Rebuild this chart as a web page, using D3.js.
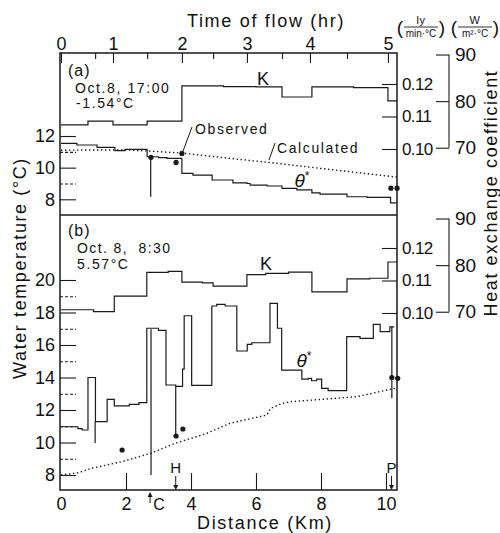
<!DOCTYPE html>
<html>
<head>
<meta charset="utf-8">
<script src="https://cdn.jsdelivr.net/npm/d3@7"></script>
<style>
  body { margin: 0; background: #fff; }
  text { font-family: "Liberation Sans", Arial, sans-serif; fill: #111; }
</style>
</head>
<body>
<svg id="chart" width="500" height="533"></svg>
<script>
// axis values
const flowHours = [0, 0.5, 1, 1.5, 2, 2.5, 3, 3.5, 4, 4.5, 5];
const flowKm = [0, 1.05, 1.6, 2.65, 3.72, 4.68, 5.72, 6.8, 7.66, 8.8, 10.06];
const distTicks = [0, 2, 4, 6, 8, 10];
const tempTicksA = [8, 9, 10, 11, 12];
const tempTicksB = [8, 9, 10, 11, 12, 13, 14, 15, 16, 17, 18, 19, 20];
const kTicks = [0.10, 0.11, 0.12];
const wTicks = [70, 80, 90];
const lyToW = 697.3;

// (a) Oct.8 17:00  [km, value]
const kA = [[0, 0.1074], [0.83, 0.1086], [1.6, 0.1074], [2.65, 0.1086], [3.72, 0.1194], [5.0, 0.1192],
  [6.0, 0.1191], [6.8, 0.1160], [7.72, 0.1191], [9.0, 0.1189], [10.06, 0.1148], [10.34, 0.1148]];
const thetaA = [[0, 11.54], [0.49, 11.43], [1.11, 11.28], [1.66, 11.07], [1.97, 11.16], [2.65, 10.69],
  [3.0, 10.63], [3.26, 10.59], [3.72, 9.64], [4.06, 9.53], [4.65, 9.22], [5.29, 9.04], [5.72, 9.0],
  [5.82, 8.9], [6.34, 8.84], [6.8, 8.69], [7.26, 8.6], [7.72, 8.41], [7.97, 8.33], [8.8, 8.16],
  [9.42, 8.12], [10.14, 7.78], [10.33, 7.78]];
const calcA = [[0, 11.1], [1.0, 11.12], [2.0, 11.12], [2.7, 11.05], [3.72, 10.92], [5.5, 10.52],
  [6.4, 10.33], [8.0, 9.95], [10.34, 9.4]];
const obsA = [[2.77, 10.65], [3.54, 10.33], [3.72, 10.9], [10.15, 8.7], [10.34, 8.7]];
const dropsA = [[2.76, 10.69, 8.16]];

// (b) Oct.8 8:30
const kB = [[0, 0.1010], [1.0, 0.1004], [1.64, 0.1052], [2.64, 0.1125], [3.3, 0.1128], [3.72, 0.1095],
  [4.35, 0.1093], [4.68, 0.1083], [5.72, 0.1118], [6.3, 0.1122], [7.0, 0.1126], [7.72, 0.1065],
  [8.8, 0.1105], [9.5, 0.1107], [10.06, 0.1157], [10.34, 0.1157]];
const thetaB = [[0, 10.97], [0.52, 10.85], [0.65, 10.77], [0.83, 14.0], [1.06, 11.28], [1.42, 12.66],
  [1.64, 12.25], [2.1, 12.35], [2.4, 12.45], [2.64, 17.03], [3.0, 16.9], [3.23, 13.54], [3.53, 13.45],
  [3.74, 14.52], [3.79, 17.8], [4.02, 13.52], [4.64, 18.4], [4.79, 18.5], [5.05, 18.4], [5.41, 15.63],
  [5.73, 16.04], [5.87, 16.14], [6.43, 18.56], [6.66, 17.03], [6.79, 14.46], [7.41, 13.9], [7.61, 13.95],
  [7.71, 13.8], [7.87, 13.9], [8.02, 13.33], [8.22, 13.19], [8.79, 16.51], [9.2, 16.41], [9.61, 17.27],
  [9.82, 16.82], [10.12, 17.12], [10.25, 17.12]];
const calcB = [[0, 8.0], [0.53, 8.14], [0.94, 8.41], [1.87, 8.82], [2.77, 9.34], [3.51, 9.95],
  [4.43, 10.52], [5.2, 11.18], [6.33, 11.69], [6.45, 12.1], [6.8, 12.4], [7.05, 12.51], [8.07, 12.66],
  [9.1, 12.82], [10.12, 13.27], [10.32, 13.35]];
const obsB = [[1.88, 9.54], [3.54, 10.4], [3.75, 10.83], [10.18, 14.0], [10.36, 13.95]];
const dropsB = [[1.05, 11.28, 9.97], [2.77, 16.97, 8.0], [3.53, 13.45, 10.46], [10.18, 17.12, 12.72]];

// stations along the river
const sites = [["H", 3.53], ["P", 10.17]];
const siteC = 2.74;

const svg = d3.select("#chart");
const box = {left: 60, right: 397, top: 53, mid: 215, bottom: 490};
const ink = "#1a1a1a";

const x = d3.scaleLinear().domain([0, 10]).range([61, 386]);
const xTime = d3.scaleLinear().domain(flowHours).range(flowKm.map(x));
const yA = d3.scaleLinear().domain([8, 12]).range([199.3, 136]);
const yB = d3.scaleLinear().domain([8, 20]).range([475, 280]);
const kScaleA = d3.scaleLinear().domain([0.10, 0.12]).range([149, 84]);
const kScaleB = d3.scaleLinear().domain([0.10, 0.12]).range([313, 248]);
const toW = k => d3.scaleLinear().domain(k.domain().map(v => v * lyToW)).range(k.range());

function styleAxis(g, size) {
    g.select(".domain").remove();
    g.selectAll(".tick line").attr("stroke", ink).attr("stroke-width", 1.1);
    g.selectAll(".tick text").attr("font-size", size).attr("font-family", "Liberation Sans, Arial, sans-serif")
        .attr("fill", ink);
}

// frame
svg.append("rect").attr("x", box.left).attr("y", box.top)
    .attr("width", box.right - box.left).attr("height", box.bottom - box.top)
    .attr("fill", "none").attr("stroke", ink).attr("stroke-width", 1.5);
svg.append("line").attr("x1", box.left).attr("x2", box.right).attr("y1", box.mid).attr("y2", box.mid)
    .attr("stroke", ink).attr("stroke-width", 1.5);

// top axis: time of flow
const topAxis = svg.append("g").attr("transform", `translate(0,${box.top})`)
    .call(d3.axisTop(xTime).tickValues(flowHours).tickSize(-6).tickPadding(3)
        .tickFormat(d => Number.isInteger(d) ? d : ""));
styleAxis(topAxis, 18);
topAxis.selectAll(".tick line").attr("y2", d => Number.isInteger(d) ? 10 : 6);

// bottom axis: distance
const botAxis = svg.append("g").attr("transform", `translate(0,${box.bottom})`)
    .call(d3.axisBottom(x).tickValues(distTicks).tickSize(-17).tickPadding(7));
styleAxis(botAxis, 18);
botAxis.selectAll(".tick line").filter(d => d === 0).remove();

// left temperature axes
[[yA, tempTicksA], [yB, tempTicksB]].forEach(([y, ticks]) => {
    const g = svg.append("g").attr("transform", `translate(${box.left},0)`)
        .call(d3.axisLeft(y).tickValues(ticks).tickSize(-16).tickPadding(5)
            .tickFormat(d => d % 2 === 0 ? d : ""));
    styleAxis(g, 18);
    g.selectAll(".tick line").attr("stroke-dasharray", d => d % 2 === 0 ? null : "3,2");
});

// right coefficient axes
[kScaleA, kScaleB].forEach(k => {
    const g = svg.append("g").attr("transform", `translate(${box.right},0)`)
        .call(d3.axisRight(k).tickValues(kTicks).tickSize(-15).tickPadding(5).tickFormat(d3.format(".2f")));
    styleAxis(g, 17);
    g.selectAll(".tick text").attr("letter-spacing", -0.6);

    const w = toW(k);
    const gw = svg.append("g").attr("transform", "translate(449,0)")
        .call(d3.axisRight(w).tickValues(wTicks).tickSize(-13).tickPadding(6));
    styleAxis(gw, 19);
    gw.append("line").attr("x1", 0).attr("x2", 0).attr("y1", w(70)).attr("y2", w(90))
        .attr("stroke", ink).attr("stroke-width", 1.1);
});

// series
const step = y => d3.line().x(d => x(d[0])).y(d => y(d[1])).curve(d3.curveStepAfter);
const smooth = y => d3.line().x(d => x(d[0])).y(d => y(d[1]));

function panel(kData, kScale, theta, calc, obs, drops, y) {
    svg.append("path").datum(kData).attr("d", step(kScale))
        .attr("fill", "none").attr("stroke", ink).attr("stroke-width", 1.2);
    svg.append("path").datum(theta).attr("d", step(y))
        .attr("fill", "none").attr("stroke", ink).attr("stroke-width", 1.2);
    svg.append("path").datum(calc).attr("d", smooth(y))
        .attr("fill", "none").attr("stroke", ink).attr("stroke-width", 1.4)
        .attr("stroke-dasharray", "1.4,2.6");
    svg.selectAll(null).data(drops).enter().append("line")
        .attr("x1", d => x(d[0])).attr("x2", d => x(d[0]))
        .attr("y1", d => y(d[1])).attr("y2", d => y(d[2]))
        .attr("stroke", ink).attr("stroke-width", 1.2);
    svg.selectAll(null).data(obs).enter().append("circle")
        .attr("cx", d => x(d[0])).attr("cy", d => y(d[1])).attr("r", 2.6).attr("fill", ink);
}
panel(kA, kScaleA, thetaA, calcA, obsA, dropsA, yA);
panel(kB, kScaleB, thetaB, calcB, obsB, dropsB, yB);

// labels inside the panels
function label(txt, px, py, size, opts = {}) {
    const t = svg.append("text").attr("x", px).attr("y", py).attr("font-size", size)
        .attr("letter-spacing", opts.ls ?? 1).text(txt);
    if (opts.anchor) t.attr("text-anchor", opts.anchor);
    if (opts.italic) t.attr("font-style", "italic");
    return t;
}
label("(a)", 68, 76, 16);
label("Oct.8, 17:00", 75, 93, 14, {ls: 1.6});
label("-1.54°C", 76, 108, 14, {ls: 1.6});
label("(b)", 68, 236, 16);
label("Oct. 8,  8:30", 77, 253, 14, {ls: 1.4}).attr("xml:space", "preserve").style("white-space", "pre");
label("5.57°C", 77, 269, 14, {ls: 1.6});
label("K", 263, 85, 18, {anchor: "middle", ls: 0});
label("K", 266, 270, 18, {anchor: "middle", ls: 0});

[[302, 187], [304, 367]].forEach(([px, py]) => {
    const t = label("θ", px, py, 19, {anchor: "middle", italic: true, ls: 0});
    t.append("tspan").attr("font-size", 12).attr("dy", -7).attr("font-style", "normal").text("*");
});

label("Observed", 195, 134, 14, {ls: 1.6});
svg.append("line").attr("x1", 192).attr("y1", 127).attr("x2", x(3.72) + 1).attr("y2", yA(10.9) - 2)
    .attr("stroke", ink).attr("stroke-width", 1);
label("Calculated", 277, 153, 14, {ls: 1.6});
svg.append("line").attr("x1", 275).attr("y1", 143).attr("x2", 269).attr("y2", 160)
    .attr("stroke", ink).attr("stroke-width", 1);

// station markers
sites.forEach(([name, km]) => {
    const sx = x(km);
    label(name, sx, 473, 15, {anchor: "middle", ls: 0});
    svg.append("line").attr("x1", sx).attr("x2", sx).attr("y1", 476).attr("y2", 487)
        .attr("stroke", ink).attr("stroke-width", 1);
    svg.append("path").attr("d", `M${sx - 2.5},485 L${sx + 2.5},485 L${sx},490 Z`).attr("fill", ink);
});
{
    const cx = x(siteC);
    svg.append("path").attr("d", `M${cx - 2.5},497 L${cx + 2.5},497 L${cx},492 Z`).attr("fill", ink);
    svg.append("line").attr("x1", cx).attr("x2", cx).attr("y1", 496).attr("y2", 503)
        .attr("stroke", ink).attr("stroke-width", 1);
    label("C", cx + 9, 510, 16, {anchor: "middle", ls: 0});
}

// titles
label("Time of flow (hr)", 266, 27, 18, {anchor: "middle", ls: 1.7});
label("Distance (Km)", 265, 529, 18, {anchor: "middle", ls: 1.7});
svg.append("text").attr("transform", "translate(26,268) rotate(-90)").attr("text-anchor", "middle")
    .attr("font-size", 18).attr("letter-spacing", 1.6).text("Water temperature (°C)");
svg.append("text").attr("transform", "translate(497,193) rotate(-90)").attr("text-anchor", "middle")
    .attr("font-size", 18).attr("letter-spacing", 1.6).text("Heat exchange coefficient");

// unit headers
function unit(cx, num, den) {
    label(num, cx, 24, 11, {anchor: "middle", ls: 0.5});
    svg.append("line").attr("x1", cx - 17).attr("x2", cx + 17).attr("y1", 27).attr("y2", 27)
        .attr("stroke", ink).attr("stroke-width", 0.9);
    label(den, cx, 37, 10, {anchor: "middle", ls: 0});
    label("(", cx - 21, 34, 19, {anchor: "middle", ls: 0});
    label(")", cx + 21, 34, 19, {anchor: "middle", ls: 0});
}
unit(421, "ly", "min·°C");
unit(475, "W", "m²·°C");
</script>
</body>
</html>
